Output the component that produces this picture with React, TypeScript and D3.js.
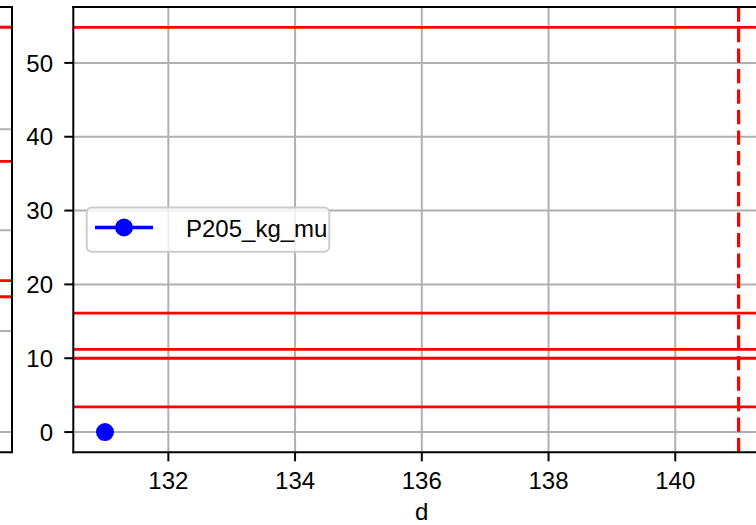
import React from "react";
import * as d3 from "d3";

const xTicks = [132, 134, 136, 138, 140];
const yTicks = [0, 10, 20, 30, 40, 50];
const seriesD = [131];
const seriesVal = [0];
const seriesName = "P205_kg_mu";
const hLines = [54.8, 16.1, 11.2, 10.0, 3.4];
const vLines = [141];
const leftYTicks = [0, 10, 20, 30, 40];
const leftHLines = [40.1, 26.8, 15.0, 13.4];
const xLabel = "d";

const W = 756;
const H = 525;
const FONT = "'Liberation Sans', 'DejaVu Sans', sans-serif";

export default function App() {
  const left = 73.3, right = 770.3, top = 7, bottom = 452.3;
  const x = d3.scaleLinear().domain([130.5, 141.5]).range([left, right]);
  const y = d3.scaleLinear().domain([-2.74, 57.57]).range([bottom, top]);
  const yL = d3.scaleLinear().domain([-2.005, 42.1]).range([bottom, top]);
  const lRight = 12;
  const lLeft = -400;
  const grid = "#b0b0b0";
  const red = "#ff0000";
  const blue = "#0000ff";
  const line = d3.line<[number, number]>().x((d) => d[0]).y((d) => d[1]);

  return (
    <svg width={W} height={H} style={{ position: "absolute", left: 0, top: 0, background: "#fff" }} fontFamily={FONT}>
      <rect x={0} y={0} width={W} height={H} fill="#fff" />
      {/* left partial subplot */}
      <g>
        {leftYTicks.map((t) => (
          <line key={"lg" + t} x1={lLeft} x2={lRight} y1={yL(t)} y2={yL(t)} stroke={grid} strokeWidth={2} />
        ))}
        {leftHLines.map((v, i) => (
          <line key={"lh" + i} x1={lLeft} x2={lRight} y1={yL(v)} y2={yL(v)} stroke={red} strokeWidth={2.8} />
        ))}
        <line x1={lRight} x2={lRight} y1={top} y2={bottom} stroke="#000" strokeWidth={2} strokeLinecap="square" />
        <line x1={lLeft} x2={lRight} y1={top} y2={top} stroke="#000" strokeWidth={2} />
        <line x1={lLeft} x2={lRight} y1={bottom} y2={bottom} stroke="#000" strokeWidth={2} />
      </g>
      {/* main axes */}
      <defs>
        <clipPath id="plotclip">
          <rect x={left} y={top} width={right - left} height={bottom - top} />
        </clipPath>
      </defs>
      <g clipPath="url(#plotclip)">
        {xTicks.map((t) => (
          <line key={"xg" + t} x1={x(t)} x2={x(t)} y1={top} y2={bottom} stroke={grid} strokeWidth={2} />
        ))}
        {yTicks.map((t) => (
          <line key={"yg" + t} x1={left} x2={right} y1={y(t)} y2={y(t)} stroke={grid} strokeWidth={2} />
        ))}
        {hLines.map((v, i) => (
          <line key={"h" + i} x1={left} x2={right} y1={y(v)} y2={y(v)} stroke={red} strokeWidth={2.8} />
        ))}
        {vLines.map((v, i) => (
          <line key={"v" + i} x1={x(v)} x2={x(v)} y1={bottom} y2={top} stroke={red} strokeWidth={3.2} strokeDasharray="14.3 6.2" />
        ))}
        <path
          d={line(seriesD.map((d, i) => [x(d), y(seriesVal[i])]) as [number, number][]) || ""}
          fill="none"
          stroke={blue}
          strokeWidth={3.5}
        />
        {seriesD.map((d, i) => (
          <circle key={"p" + i} cx={x(d)} cy={y(seriesVal[i])} r={9} fill={blue} />
        ))}
      </g>
      {/* spines */}
      <line x1={left} x2={left} y1={top} y2={bottom} stroke="#000" strokeWidth={2} strokeLinecap="square" />
      <line x1={left} x2={right} y1={top} y2={top} stroke="#000" strokeWidth={2} strokeLinecap="square" />
      <line x1={left} x2={right} y1={bottom} y2={bottom} stroke="#000" strokeWidth={2} strokeLinecap="square" />
      {/* ticks */}
      {xTicks.map((t) => (
        <g key={"xt" + t}>
          <line x1={x(t)} x2={x(t)} y1={bottom} y2={bottom + 9} stroke="#000" strokeWidth={2} />
          <text x={x(t)} y={488.7} textAnchor="middle" fontSize={24} fill="#000">
            {t}
          </text>
        </g>
      ))}
      {yTicks.map((t) => (
        <g key={"yt" + t}>
          <line x1={left - 9} x2={left} y1={y(t)} y2={y(t)} stroke="#000" strokeWidth={2} />
          <text x={53} y={y(t)} dy="0.36em" textAnchor="end" fontSize={24} fill="#000">
            {t}
          </text>
        </g>
      ))}
      <text x={(left + right) / 2} y={519.5} textAnchor="middle" fontSize={24} fill="#000">
        {xLabel}
      </text>
      {/* legend */}
      <g>
        <rect x={86.7} y={207.5} width={242.6} height={44.2} rx={5} fill="#fff" fillOpacity={0.8} stroke="#cccccc" strokeWidth={2} />
        <line x1={95} x2={153} y1={227.5} y2={227.5} stroke={blue} strokeWidth={3.5} />
        <circle cx={124} cy={227.5} r={9} fill={blue} />
        <text x={186} y={236.7} fontSize={24} fill="#000">
          {seriesName}
        </text>
      </g>
    </svg>
  );
}
